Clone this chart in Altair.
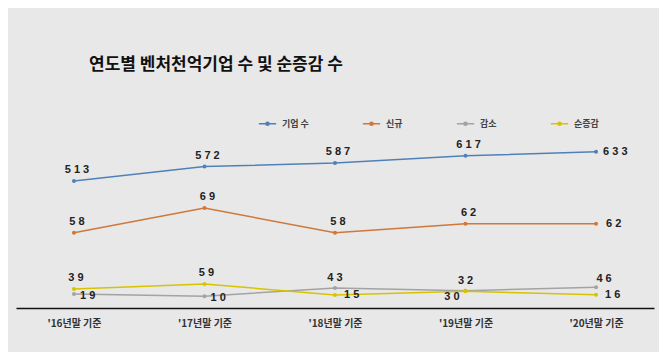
import altair as alt
import pandas as pd

years = ["'16년말 기준", "'17년말 기준", "'18년말 기준", "'19년말 기준", "'20년말 기준"]
series_names = ["기업 수", "신규", "감소", "순증감"]
companies = [513, 572, 587, 617, 633]
new_cnt = [58, 69, 58, 62, 62]
decrease = [19, 10, 43, 32, 46]
net = [39, 59, 15, 30, 16]
colors = ["#4f81b8", "#d0773a", "#a3a3a3", "#d6c400"]

rows = []
for name, vals in zip(series_names, [companies, new_cnt, decrease, net]):
    for i, (yr, v) in enumerate(zip(years, vals)):
        rows.append({"series": name, "year": yr, "idx": i, "value": v,
                     "label": " ".join(str(v))})
df = pd.DataFrame(rows)

KFONT = "Noto Sans CJK KR"
NFONT = "Liberation Sans"

x_enc = alt.X("year:N", sort=years,
              scale=alt.Scale(type="point", padding=0.444),
              axis=alt.Axis(title=None, labelAngle=0, ticks=False, grid=False,
                            domainColor="#111", domainWidth=1.5,
                            labelFont=KFONT, labelFontSize=10, labelFontWeight="bold",
                            labelColor="#333", labelPadding=10))

legend_symbol = "M-1,0L1,0M-0.18,0A0.18,0.18,0,1,1,0.18,0A0.18,0.18,0,1,1,-0.18,0"
color_enc = alt.Color("series:N",
                      scale=alt.Scale(domain=series_names, range=colors),
                      legend=alt.Legend(title=None, orient="none", legendX=242, legendY=-18,
                                        direction="horizontal", columns=4,
                                        symbolType=legend_symbol, symbolSize=300,
                                        symbolStrokeWidth=1.6, labelFont=KFONT,
                                        labelFontSize=9, labelFontWeight="bold",
                                        labelColor="#444", columnPadding=50,
                                        labelOffset=5))


def series_layer(name, domain, label_specs):
    base = alt.Chart(df).transform_filter(alt.datum.series == name).encode(
        x=x_enc,
        y=alt.Y("value:Q", scale=alt.Scale(domain=domain, nice=False, zero=False), axis=None),
    )
    line = base.mark_line(strokeWidth=1.5).encode(color=color_enc)
    pts = base.mark_circle(size=16, opacity=1).encode(color=color_enc)
    texts = []
    for idxs, align, dx, dy in label_specs:
        texts.append(
            base.transform_filter(alt.FieldOneOfPredicate(field="idx", oneOf=idxs))
            .mark_text(align=align, baseline="middle", dx=dx, dy=dy, font=NFONT,
                       fontSize=11, fontWeight="bold", color="#222")
            .encode(text="label:N")
        )
    return alt.layer(line, pts, *texts)


blue = series_layer("기업 수", [-12, 715],
                    [([0, 1, 2, 3], "center", 3, -11), ([4], "left", 7, 0)])
orange = series_layer("신규", [24.6, 102.8],
                      [([0, 1, 2, 3], "center", 3, -11), ([4], "left", 10, 0)])
gray = series_layer("감소", [-37, 667],
                    [([0, 1], "left", 6, 2), ([2, 3], "center", 0, -10), ([4], "center", 8, -8)])
yellow = series_layer("순증감", [-37, 667],
                      [([0, 1], "center", 2, -11), ([2, 4], "left", 9, 0), ([3], "right", -6, 6)])

chart = (
    alt.layer(blue, orange, gray, yellow)
    .resolve_scale(y="independent")
    .properties(
        width=638, height=176,
        title=alt.Title("연도별 벤처천억기업 수 및 순증감 수", anchor="start", dx=73,
                        fontSize=17, font=KFONT, fontWeight="bold", color="#111",
                        offset=40),
        padding={"left": 8, "top": 48, "right": 5, "bottom": 24},
        background="#e8e8e8",
    )
    .configure_view(stroke=None)
)

chart.save("out.html", embed_options={"renderer": "svg", "actions": False})
